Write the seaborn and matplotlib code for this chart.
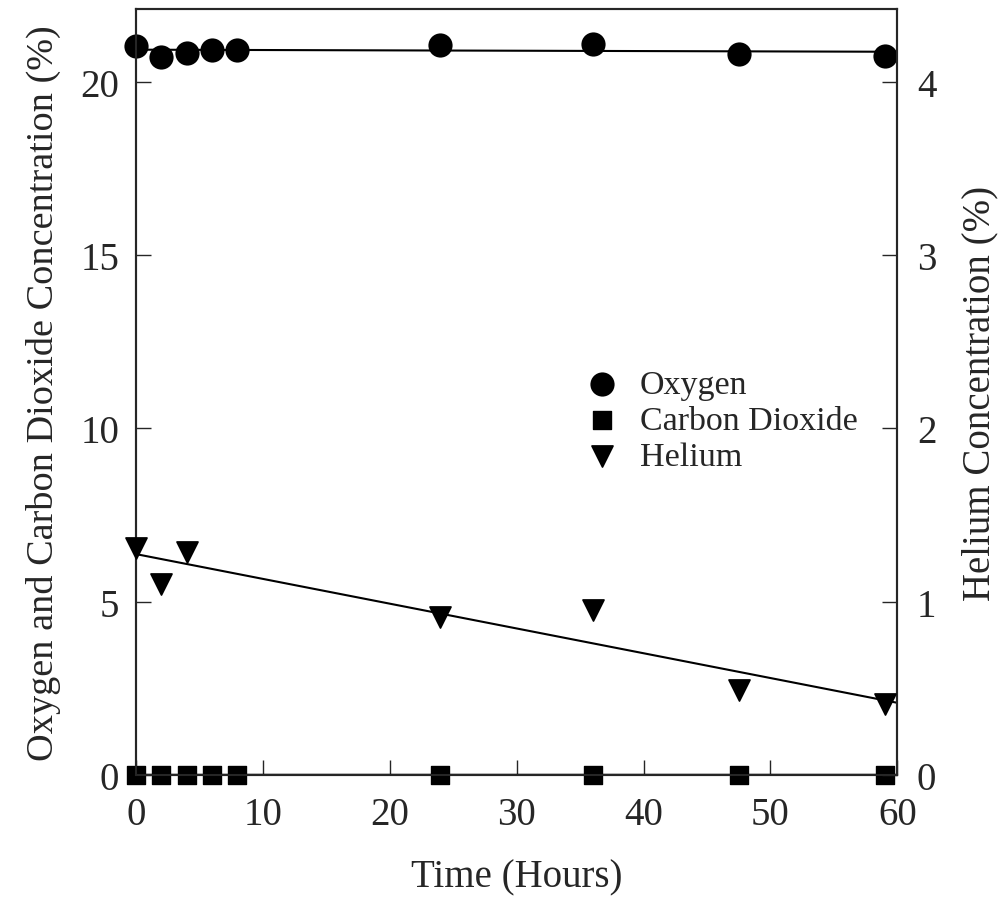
import numpy as np
import pandas as pd
import seaborn as sns
import matplotlib.pyplot as plt

# values
hours = [0, 2, 4, 6, 8, 24, 36, 47.5, 59]
oxygen = [21.04, 20.72, 20.84, 20.92, 20.92, 21.07, 21.1, 20.8, 20.75]
co2 = [0, 0, 0, 0, 0, 0, 0, 0, 0]
he_hours = [0, 2, 4, 24, 36, 47.5, 59]
helium = [1.31, 1.10, 1.29, 0.91, 0.95, 0.49, 0.41]

gas = pd.DataFrame({'hours': hours, 'oxygen': oxygen, 'co2': co2})
he = pd.DataFrame({'hours': he_hours, 'helium': helium})

sns.set_style('ticks')
plt.rcParams['font.family'] = ['Liberation Serif', 'DejaVu Serif']
plt.rcParams['axes.linewidth'] = 1.5

fig, ax = plt.subplots(figsize=(10.06, 9.12), dpi=100)
fig.subplots_adjust(left=0.135, right=0.892, top=0.989, bottom=0.149)
ax2 = ax.twinx()

ax.set_xlim(0, 60)
ax.set_ylim(0, 22.1)
ax2.set_ylim(0, 22.1 / 5)

# fitted lines
sns.regplot(data=gas, x='hours', y='oxygen', ax=ax, scatter=False, ci=None,
            truncate=False, color='black', line_kws={'lw': 1.5})
sns.regplot(data=gas, x='hours', y='co2', ax=ax, scatter=False, ci=None,
            truncate=False, color='black', line_kws={'lw': 2.5})
sns.regplot(data=he, x='hours', y='helium', ax=ax2, scatter=False, ci=None,
            truncate=False, color='black', line_kws={'lw': 1.5})

# points
sns.scatterplot(data=gas, x='hours', y='oxygen', ax=ax, marker='o', s=260,
                color='black', edgecolor='black', label='Oxygen', clip_on=False, zorder=5)
sns.scatterplot(data=gas, x='hours', y='co2', ax=ax, marker='s', s=150,
                color='black', edgecolor='black', label='Carbon Dioxide', clip_on=False, zorder=5)
sns.scatterplot(data=he, x='hours', y='helium', ax=ax2, marker='v', s=230,
                color='black', edgecolor='black', label='Helium', clip_on=False, zorder=5)

ax.set_xlim(0, 60)
ax.set_ylim(0, 22.1)
ax2.set_ylim(0, 22.1 / 5)

ax.set_xticks([0, 10, 20, 30, 40, 50, 60])
ax.set_yticks([0, 5, 10, 15, 20])
ax2.set_yticks([0, 1, 2, 3, 4])

ax.tick_params(axis='both', direction='in', length=11, width=1, labelsize=28, pad=12)
ax.tick_params(axis='x', pad=15)
ax.tick_params(axis='y', right=False)
ax2.tick_params(axis='y', direction='in', length=11, width=1, labelsize=28, pad=14)

ax.set_xlabel('Time (Hours)', fontsize=28, labelpad=18)
ax.set_ylabel('Oxygen and Carbon Dioxide Concentration (%)', fontsize=27.5, labelpad=14)
ax2.set_ylabel('Helium Concentration (%)', fontsize=28, labelpad=18)

h1, l1 = ax.get_legend_handles_labels()
h2, l2 = ax2.get_legend_handles_labels()
ax2.legend(h1 + h2, l1 + l2, loc='upper left', bbox_to_anchor=(0.59, 0.53),
           frameon=False, fontsize=24.5, handlelength=1.0, handletextpad=0.6,
           labelspacing=0.15, borderpad=0, borderaxespad=0)
if ax.get_legend() is not None:
    ax.get_legend().remove()

fig.savefig('out.png', dpi=100)
